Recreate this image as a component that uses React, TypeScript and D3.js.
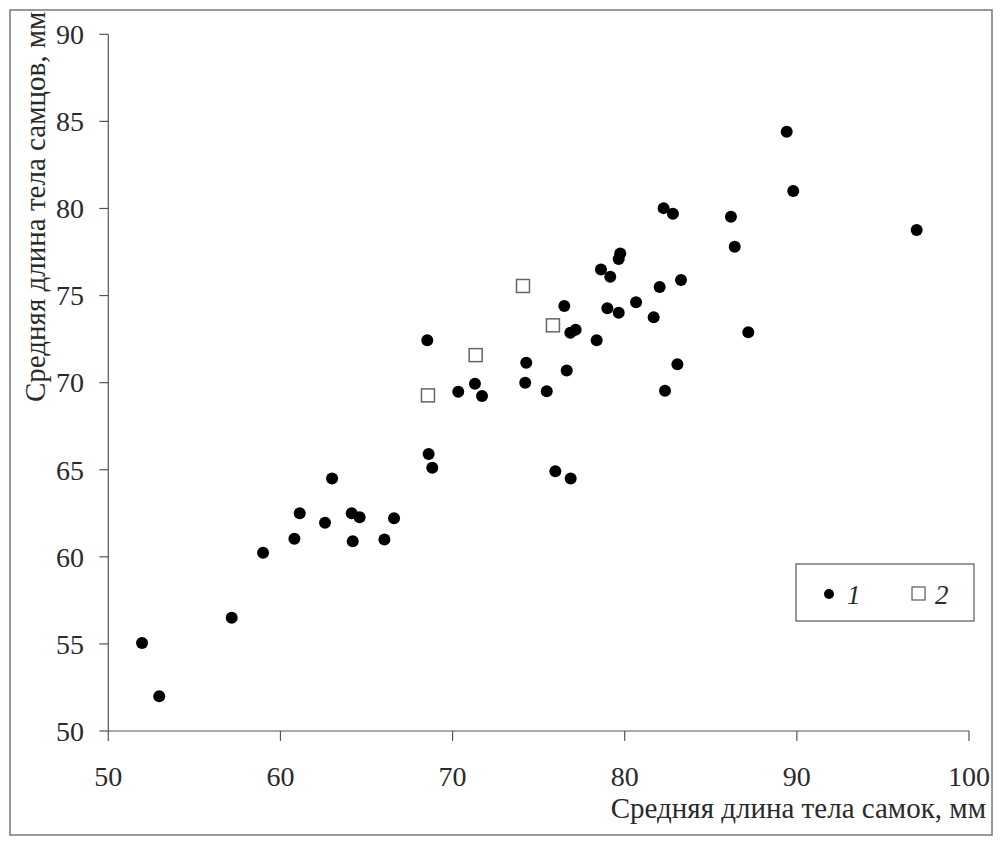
import React from "react";
import * as d3 from "d3";

// group 1 (filled circles): [female length, male length]
const femaleLen1 = [
  51.96, 52.96, 57.17, 58.99, 60.81, 61.12, 62.59, 63.0, 64.14, 64.6, 64.2, 66.04, 66.6,
  68.53, 70.33, 71.3, 71.71, 74.28, 74.22, 75.47, 76.63, 76.49, 76.84, 77.15, 78.37,
  78.62, 78.99, 68.61, 68.82, 75.97, 76.86, 82.26, 82.8, 86.17, 86.39, 79.74, 79.65,
  79.16, 82.03, 83.27, 79.65, 80.66, 81.68, 87.18, 83.06, 82.34, 89.41, 89.79, 96.96,
];
const maleLen1 = [
  55.05, 52.0, 56.5, 60.24, 61.04, 62.5, 61.96, 64.5, 62.5, 62.27, 60.89, 61.0, 62.21,
  72.43, 69.48, 69.94, 69.23, 71.14, 69.99, 69.5, 70.7, 74.4, 72.87, 73.04, 72.43,
  76.5, 74.27, 65.9, 65.12, 64.91, 64.5, 80.02, 79.7, 79.52, 77.8, 77.42, 77.1,
  76.08, 75.49, 75.89, 74.01, 74.61, 73.75, 72.9, 71.05, 69.54, 84.4, 81.0, 78.76,
];

// group 2 (open squares)
const femaleLen2 = [74.09, 75.83, 71.34, 68.57];
const maleLen2 = [75.55, 73.29, 71.58, 69.27];

const xTicks = [50, 60, 70, 80, 90, 100];
const yTicks = [50, 55, 60, 65, 70, 75, 80, 85, 90];
const legendLabels = ["1", "2"];

const xTitle = "Средняя длина тела самок, мм";
const yTitle = "Средняя длина тела самцов, мм";

export default function App() {
  const width = 1006, height = 845;
  const left = 108.3, right = 969, top = 34.3, bottom = 731;

  const x = d3.scaleLinear().domain([50, 100]).range([left, right]);
  const y = d3.scaleLinear().domain([50, 90]).range([bottom, top]);

  const axisColor = "#555";
  const textColor = "#2a2a2a";
  const font = "'Liberation Serif', 'Times New Roman', serif";
  const sq = 13;

  const pts1 = femaleLen1.map((f, i) => [f, maleLen1[i]]);
  const pts2 = femaleLen2.map((f, i) => [f, maleLen2[i]]);

  return (
    <div style={{ position: "absolute", left: 0, top: 0 }}>
      <svg width={width} height={height} style={{ display: "block", background: "#fff" }}>
        <rect x={10} y={10} width={982} height={825} fill="#fff" stroke="#777" strokeWidth={1.5} />

        {/* axes */}
        <line x1={left} x2={left} y1={top} y2={bottom} stroke={axisColor} strokeWidth={1.2} />
        <line x1={left} x2={right} y1={bottom} y2={bottom} stroke={axisColor} strokeWidth={1.2} />

        {yTicks.map(t => (
          <g key={"y" + t} transform={`translate(0,${y(t)})`}>
            <line x1={left - 9} x2={left} stroke={axisColor} strokeWidth={1.2} />
            <text x={84} dy="0.35em" textAnchor="end" fontFamily={font} fontSize={28} fill={textColor}>{t}</text>
          </g>
        ))}
        {xTicks.map(t => (
          <g key={"x" + t} transform={`translate(${x(t)},0)`}>
            <line y1={bottom} y2={bottom + 10} stroke={axisColor} strokeWidth={1.2} />
            <text y={786} textAnchor="middle" fontFamily={font} fontSize={28} fill={textColor}>{t}</text>
          </g>
        ))}

        <text x={986} y={818} textAnchor="end" fontFamily={font} fontSize={29} fill={textColor}>{xTitle}</text>
        <text transform={`translate(45,402) rotate(-90)`} textAnchor="start" fontFamily={font} fontSize={29} fill={textColor}>{yTitle}</text>

        {/* points */}
        {pts1.map((d, i) => (
          <circle key={"c" + i} cx={x(d[0])} cy={y(d[1])} r={6} fill="#000" />
        ))}
        {pts2.map((d, i) => (
          <rect key={"s" + i} x={x(d[0]) - sq / 2} y={y(d[1]) - sq / 2} width={sq} height={sq}
            fill="#fff" stroke="#666" strokeWidth={1.5} />
        ))}

        {/* legend */}
        <rect x={796} y={564} width={178} height={57} fill="#fff" stroke="#555" strokeWidth={1.2} />
        <circle cx={829} cy={594} r={5} fill="#000" />
        <text x={847} y={604} fontFamily={font} fontStyle="italic" fontSize={27} fill={textColor}>{legendLabels[0]}</text>
        <rect x={912} y={587} width={13} height={13} fill="#fff" stroke="#666" strokeWidth={1.3} />
        <text x={935} y={604} fontFamily={font} fontStyle="italic" fontSize={27} fill={textColor}>{legendLabels[1]}</text>
      </svg>
    </div>
  );
}
